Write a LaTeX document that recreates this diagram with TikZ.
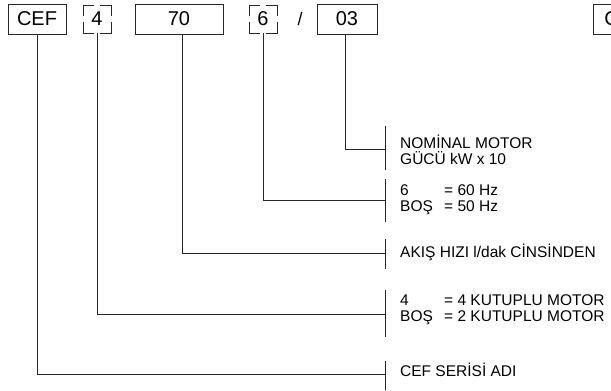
\documentclass[tikz,border=0pt]{standalone}
\usepackage{fontspec}
\setmainfont{Liberation Sans}
\begin{document}
\begin{tikzpicture}[x=1pt,y=-1pt,
  wire/.style={line width=0.8pt, draw=black!85},
  codebox/.style={draw=black!85, line width=0.8pt, minimum height=30pt, inner sep=0pt, font=\fontsize{20}{20}\selectfont},
  dashbox/.style={codebox, minimum width=28pt, minimum height=28pt, dash pattern=on 11pt off 6pt on 11pt off 0pt},
  lbl/.style={anchor=west, inner sep=0pt, align=left, font=\fontsize{15.5}{16}\selectfont}]
\useasboundingbox (0,0) rectangle (611,391);
\clip (0,0) rectangle (611,391);
\fill[white] (0,0) rectangle (611,391);

% code boxes
\node[codebox, minimum width=58pt] (cef) at (37,19) {CEF};
\node[dashbox] (b4) at (97,19) {4};
\node[codebox, minimum width=88pt] (b70) at (179,19) {70};
\node[dashbox] (b6) at (263,19) {6};
\node[inner sep=0pt, font=\fontsize{18}{18}\selectfont] (sl) at (300,19) {/};
\node[codebox, minimum width=60pt] (b03) at (347,19) {03};
\node[codebox, anchor=west, inner xsep=11pt] (bx) at (593,19) {CEF};

% terminal coordinates
\coordinate (t03) at (385,149);
\coordinate (t6) at (385,200);
\coordinate (t70) at (385,253);
\coordinate (t4) at (385,314);
\coordinate (tcef) at (385,374);

% connectors
\draw[wire] ([xshift=-2pt]b03.south) |- (t03);
\draw[wire] (b6.south) |- (t6);
\draw[wire] ([xshift=3pt]b70.south) |- (t70);
\draw[wire] (b4.south) |- (t4);
\draw[wire] (cef.south) |- (tcef);

% bars
\draw[wire] (385,126) -- (385,170);
\draw[wire] (385,179) -- (385,222);
\draw[wire] (385,239) -- (385,269);
\draw[wire] (385,290) -- (385,337);
\draw[wire] (385,361) -- (385,390);

% labels
\node[lbl] (l03) at (400,150) {NOMİNAL MOTOR\\GÜCÜ kW x 10};
\node[lbl] (l6) at (400,200) {\makebox[44pt][l]{6}= 60 Hz\\\makebox[44pt][l]{BOŞ}= 50 Hz};
\node[lbl] (l70) at (400,252) {AKIŞ HIZI l/dak CİNSİNDEN};
\node[lbl] (l4) at (400,310) {\makebox[44pt][l]{4}= 4 KUTUPLU MOTOR\\\makebox[44pt][l]{BOŞ}= 2 KUTUPLU MOTOR};
\node[lbl] (lcef) at (400,370) {CEF SERİSİ ADI};
\end{tikzpicture}
\end{document}
